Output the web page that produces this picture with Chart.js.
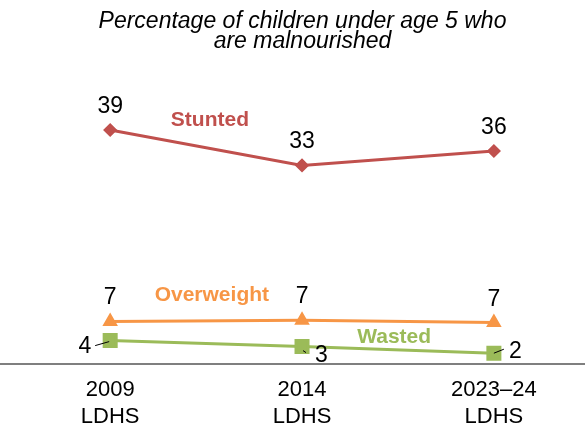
<!DOCTYPE html>
<html>
<head>
<meta charset="utf-8">
<script src="https://cdn.jsdelivr.net/npm/chart.js@4.4.0/dist/chart.umd.min.js"></script>
<style>
  html, body { margin: 0; padding: 0; background: #fff; }
  #wrap { width: 585px; height: 432px; }
</style>
</head>
<body>
<div id="wrap"><canvas id="grafico" width="585" height="432"></canvas></div>
<script>
// Datos del gráfico
const titulo = ["Percentage of children under age 5 who", "are malnourished"];
const encuestas = [["2009", "LDHS"], ["2014", "LDHS"], ["2023–24", "LDHS"]];
const stunted = [39.0, 33.1, 35.5];
const overweight = [7.1, 7.3, 6.9];
const wasted = [3.9, 2.9, 1.8];
const nombres = ["Stunted", "Overweight", "Wasted"];

const colores = ["#C0504D", "#F79646", "#9BBB59"];
const fuente = "'Liberation Sans', Arial, sans-serif";

// Posición de cada etiqueta de valor respecto a su punto: dx, dy, alineación, guía [x1, y1, x2, y2]
const ubicaciones = [
  [[0, -17, "center"], [0, -17, "center"], [0, -17, "center"]],
  [[0, -17, "center"], [0, -17, "center"], [0, -17, "center"]],
  [[-19, 12, "right", [-1, 1, -15, 5]], [13, 15, "left", [1, 4, 4, 6]], [15, 5, "left", [0, 0, 10, -4]]]
];
// Nombres de las series en coordenadas de los ejes (x, y)
const anclas = [[0.52, 39.7], [0.53, 10.5], [1.48, 3.5]];

const puntos = (serie) => serie.map((v, i) => ({ x: i, y: v }));

// Plugin: línea base, nombres de series y valores
const etiquetas = {
  id: "etiquetas",
  afterDatasetsDraw(chart) {
    const { ctx, scales } = chart;
    const x = scales.x, y = scales.y;
    ctx.save();
    // línea del eje
    const y0 = y.getPixelForValue(0);
    ctx.strokeStyle = "#7f7f7f";
    ctx.lineWidth = 2;
    ctx.beginPath();
    ctx.moveTo(0, y0);
    ctx.lineTo(chart.width, y0);
    ctx.stroke();

    // nombres
    ctx.font = "bold 21px " + fuente;
    ctx.textAlign = "center";
    ctx.textBaseline = "alphabetic";
    nombres.forEach((n, i) => {
      ctx.fillStyle = colores[i];
      ctx.fillText(n, x.getPixelForValue(anclas[i][0]), y.getPixelForValue(anclas[i][1]));
    });

    // valores
    ctx.font = "23px " + fuente;
    ctx.fillStyle = "#000";
    chart.data.datasets.forEach((ds, d) => {
      const meta = chart.getDatasetMeta(d);
      meta.data.forEach((p, i) => {
        const u = ubicaciones[d][i];
        ctx.textAlign = u[2];
        ctx.fillText(String(Math.round(ds.data[i].y)), p.x + u[0], p.y + u[1]);
        if (u[3]) {
          const g = u[3];
          ctx.strokeStyle = "#000";
          ctx.lineWidth = 1;
          ctx.beginPath();
          ctx.moveTo(p.x + g[0], p.y + g[1]);
          ctx.lineTo(p.x + g[2], p.y + g[3]);
          ctx.stroke();
        }
      });
    });
    ctx.restore();
  }
};

const chart = new Chart(document.getElementById("grafico"), {
  type: "line",
  data: {
    datasets: [
      {
        label: nombres[0],
        data: puntos(stunted),
        borderColor: colores[0],
        backgroundColor: colores[0],
        borderWidth: 3,
        pointStyle: "rectRot",
        pointRadius: 5
      },
      {
        label: nombres[1],
        data: puntos(overweight),
        borderColor: colores[1],
        backgroundColor: colores[1],
        borderWidth: 3,
        pointStyle: "triangle",
        pointRadius: 6
      },
      {
        label: nombres[2],
        data: puntos(wasted),
        borderColor: colores[2],
        backgroundColor: colores[2],
        borderWidth: 3,
        pointStyle: "rect",
        pointRadius: 8.5
      }
    ]
  },
  options: {
    responsive: false,
    animation: false,
    devicePixelRatio: 1,
    layout: { padding: { left: 20, right: 0, top: 0, bottom: 0 } },
    plugins: {
      legend: { display: false },
      tooltip: { enabled: false },
      title: {
        display: true,
        text: titulo,
        color: "#000",
        font: { family: fuente, size: 23, style: "italic", weight: "normal", lineHeight: "20px" },
        padding: { top: 12, bottom: 42 }
      }
    },
    scales: {
      x: {
        type: "linear",
        min: -0.47,
        max: 2.415,
        grid: { display: false, drawTicks: false },
        border: { display: false },
        afterBuildTicks(scale) {
          scale.ticks = encuestas.map((_, i) => ({ value: i }));
        },
        afterFit(scale) {
          scale.height = 68;
        },
        ticks: {
          autoSkip: false,
          maxRotation: 0,
          color: "#000",
          padding: 12,
          font: { family: fuente, size: 22, lineHeight: "27px" },
          callback: (v) => encuestas[v]
        }
      },
      y: {
        display: false,
        min: 0,
        max: 45
      }
    }
  },
  plugins: [etiquetas]
});
</script>
</body>
</html>
